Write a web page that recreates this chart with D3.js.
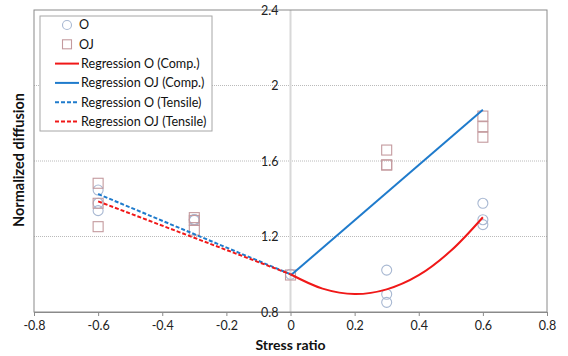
<!DOCTYPE html>
<html><head><meta charset="utf-8">
<script src="https://cdn.jsdelivr.net/npm/d3@7"></script>
<style>body{margin:0;background:#fff}svg{display:block}</style>
</head><body>
<svg id="c" width="568" height="356"></svg>
<script>
// ---- data ----
const xTickValues = [-0.8, -0.6, -0.4, -0.2, 0, 0.2, 0.4, 0.6, 0.8];
const xTickLabels = ["-0.8", "-0.6", "-0.4", "-0.2", "0", "0.2", "0.4", "0.6", "0.8"];
const yTickValues = [0.8, 1.2, 1.6, 2.0, 2.4];
const yTickLabels = ["0.8", "1.2", "1.6", "2", "2.4"];

const oX = [-0.6, -0.6, -0.6, -0.3, -0.3, -0.3, 0, 0.3, 0.3, 0.3, 0.6, 0.6, 0.6];
const oY = [1.446, 1.376, 1.337, 1.29, 1.29, 1.285, 1.0, 1.022, 0.894, 0.851, 1.376, 1.289, 1.263];
const ojX = [-0.6, -0.6, -0.6, -0.3, -0.3, -0.3, 0, 0.3, 0.3, 0.3, 0.6, 0.6, 0.6];
const ojY = [1.482, 1.376, 1.252, 1.30, 1.285, 1.234, 0.996, 1.658, 1.579, 1.579, 1.838, 1.782, 1.726];

const regOCompX = [0, 0.1, 0.2, 0.3, 0.4, 0.5, 0.6];
const regOCompY = [1.0, 0.924, 0.895, 0.92, 0.995, 1.124, 1.302];
const regOJCompX = [0, 0.6];
const regOJCompY = [0.993, 1.872];
const regOTensX = [-0.6, 0];
const regOTensY = [1.425, 1.0];
const regOJTensX = [-0.6, 0];
const regOJTensY = [1.386, 1.0];

const legendLabels = ["O", "OJ", "Regression O (Comp.)", "Regression OJ (Comp.)", "Regression O (Tensile)", "Regression OJ (Tensile)"];

// ---- drawing ----
const svg = d3.select("#c");
const L = 34, R = 547, T = 10, B = 312;
const x = d3.scaleLinear().domain([-0.8, 0.8]).range([L, R]);
const y = d3.scaleLinear().domain([0.8, 2.4]).range([B, T]);
const font = "Lato, 'Open Sans', sans-serif";
const RED = "#f01818", BLUE = "#1f7bcc";
const CIRC = "#a8b8d2", SQ = "#c49a9e";

// gridlines
svg.append("g").selectAll("line").data(yTickValues.filter(v => v > 0.8 && v < 2.4)).join("line")
  .attr("x1", L).attr("x2", R).attr("y1", d => y(d)).attr("y2", d => y(d))
  .attr("stroke", "#a8a8a8").attr("stroke-width", 0.8).attr("stroke-dasharray", "1,1");

// y axis vertical line at x=0
svg.append("line").attr("x1", x(0)).attr("x2", x(0)).attr("y1", T).attr("y2", B)
  .attr("stroke", "#d8d8d8").attr("stroke-width", 2);

// plot border
svg.append("rect").attr("x", L).attr("y", T).attr("width", R - L).attr("height", B - T)
  .attr("fill", "none").attr("stroke", "#8a8a8a").attr("stroke-width", 1);

// x axis
const xAxis = d3.axisBottom(x).tickValues(xTickValues)
  .tickFormat((d, i) => xTickLabels[i]).tickSize(4).tickSizeOuter(0);
const gx = svg.append("g").attr("transform", `translate(0,${B})`).call(xAxis);
gx.select(".domain").attr("stroke", "#8a8a8a");
gx.selectAll(".tick line").attr("stroke", "#8a8a8a");
gx.selectAll("text").attr("font-family", font).attr("font-size", 12.5).attr("fill", "#222").attr("dy", "0.85em");

// y axis labels (left of the x=0 line)
const yAxis = d3.axisLeft(y).tickValues(yTickValues)
  .tickFormat((d, i) => yTickLabels[i]).tickSize(0).tickPadding(12);
const gy = svg.append("g").attr("transform", `translate(${x(0)},0)`).call(yAxis);
gy.select(".domain").remove();
gy.selectAll("text").attr("font-family", font).attr("font-size", 12.5).attr("fill", "#222");

// markers
svg.append("g").selectAll("circle").data(oX.map((d, i) => [d, oY[i]])).join("circle")
  .attr("cx", d => x(d[0])).attr("cy", d => y(d[1])).attr("r", 5)
  .attr("fill", "none").attr("stroke", CIRC).attr("stroke-width", 1.1);
svg.append("g").selectAll("rect").data(ojX.map((d, i) => [d, ojY[i]])).join("rect")
  .attr("x", d => x(d[0]) - 5).attr("y", d => y(d[1]) - 5).attr("width", 10).attr("height", 10)
  .attr("fill", "none").attr("stroke", SQ).attr("stroke-width", 1.1);

// regression lines
const line = d3.line().x(d => x(d[0])).y(d => y(d[1]));
const zip = (a, b) => a.map((d, i) => [d, b[i]]);
svg.append("path").datum(zip(regOTensX, regOTensY)).attr("d", line)
  .attr("fill", "none").attr("stroke", BLUE).attr("stroke-width", 2).attr("stroke-dasharray", "4,2");
svg.append("path").datum(zip(regOJTensX, regOJTensY)).attr("d", line)
  .attr("fill", "none").attr("stroke", RED).attr("stroke-width", 2).attr("stroke-dasharray", "4,2");
svg.append("path").datum(zip(regOJCompX, regOJCompY)).attr("d", line)
  .attr("fill", "none").attr("stroke", BLUE).attr("stroke-width", 2);
svg.append("path").datum(zip(regOCompX, regOCompY)).attr("d", line.curve(d3.curveCatmullRom.alpha(0.5)))
  .attr("fill", "none").attr("stroke", RED).attr("stroke-width", 2);

// legend
const lg = svg.append("g");
lg.append("rect").attr("x", 40).attr("y", 16).attr("width", 172).attr("height", 115)
  .attr("fill", "#fff").attr("stroke", "#a6a6a6").attr("stroke-width", 1);
const rowY = i => 25 + i * 19.3;
lg.append("circle").attr("cx", 67).attr("cy", rowY(0)).attr("r", 4.5)
  .attr("fill", "none").attr("stroke", CIRC).attr("stroke-width", 1.1);
lg.append("rect").attr("x", 62.5).attr("y", rowY(1) - 4.5).attr("width", 9).attr("height", 9)
  .attr("fill", "none").attr("stroke", SQ).attr("stroke-width", 1.1);
const legStyles = [null, null, [RED, null], [BLUE, null], [BLUE, "4,2"], [RED, "4,2"]];
legStyles.forEach((s, i) => {
  if (!s) return;
  lg.append("line").attr("x1", 55).attr("x2", 79).attr("y1", rowY(i)).attr("y2", rowY(i))
    .attr("stroke", s[0]).attr("stroke-width", 2).attr("stroke-dasharray", s[1]);
});
lg.selectAll("text").data(legendLabels).join("text")
  .attr("x", (d, i) => i < 2 ? 79 : 81).attr("y", (d, i) => rowY(i)).attr("dy", "0.35em")
  .attr("font-family", font).attr("font-size", 12.6).attr("fill", "#111").text(d => d);

// axis titles
svg.append("text").attr("x", x(0)).attr("y", 350).attr("text-anchor", "middle")
  .attr("font-family", font).attr("font-size", 14).attr("font-weight", "bold").attr("fill", "#111")
  .text("Stress ratio");
svg.append("text").attr("transform", "translate(24,160) rotate(-90)").attr("text-anchor", "middle")
  .attr("font-family", font).attr("font-size", 14.5).attr("font-weight", "bold").attr("fill", "#111")
  .text("Normalized diffusion");
</script>
</body></html>
